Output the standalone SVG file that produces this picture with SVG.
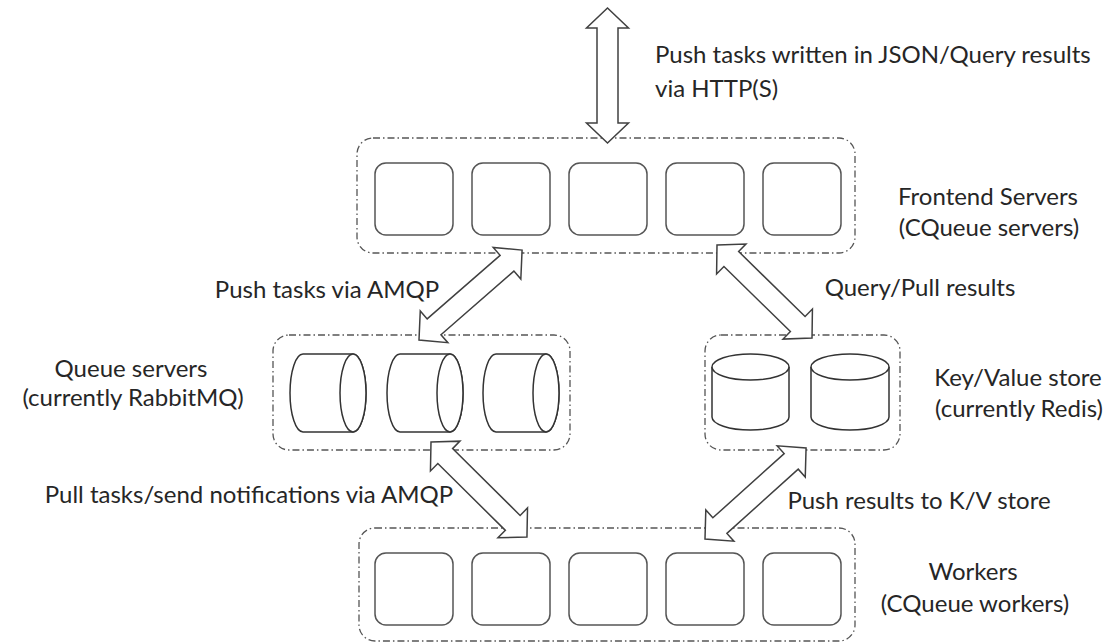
<svg xmlns="http://www.w3.org/2000/svg" width="1116" height="643" viewBox="0 0 1116 643">
<style>
  .grp { fill: none; stroke: #555; stroke-width: 1.3; stroke-dasharray: 7 3 1.5 3; }
  .box { fill: #fff; stroke: #555; stroke-width: 1.5; }
  .cyl { fill: #fff; stroke: #333; stroke-width: 1.5; }
  .arr { fill: #fff; stroke: #404040; stroke-width: 1.5; stroke-linejoin: miter; }
  text { font-family: Lato, "Open Sans", sans-serif; font-size: 24px; fill: #262626; }
  .c { text-anchor: middle; }
</style>
<rect width="1116" height="643" fill="#fff"/>

<g id="frontend">
  <rect class="grp" x="357" y="138" width="498" height="115" rx="16"/>
  <rect class="box" x="375" y="163" width="78" height="72" rx="11"/>
  <rect class="box" x="472" y="163" width="78" height="72" rx="11"/>
  <rect class="box" x="569" y="163" width="78" height="72" rx="11"/>
  <rect class="box" x="666" y="163" width="78" height="72" rx="11"/>
  <rect class="box" x="763" y="163" width="78" height="72" rx="11"/>
  <text class="c" x="988" y="205">Frontend Servers</text>
  <text class="c" x="989" y="236">(CQueue servers)</text>
</g>

<g id="queue">
  <rect class="grp" x="273" y="335" width="297" height="115" rx="16"/>
  <path class="cyl" d="M303,354 L353,354 A13,39 0 0 1 353,432 L303,432 A13,39 0 0 1 303,354 Z"/>
  <ellipse class="cyl" cx="353" cy="393" rx="13" ry="39"/>
  <path class="cyl" d="M400,354 L450,354 A13,39 0 0 1 450,432 L400,432 A13,39 0 0 1 400,354 Z"/>
  <ellipse class="cyl" cx="450" cy="393" rx="13" ry="39"/>
  <path class="cyl" d="M496,354 L546,354 A13,39 0 0 1 546,432 L496,432 A13,39 0 0 1 496,354 Z"/>
  <ellipse class="cyl" cx="546" cy="393" rx="13" ry="39"/>
  <text class="c" x="131" y="377">Queue servers</text>
  <text class="c" x="133" y="406">(currently RabbitMQ)</text>
</g>

<g id="kvstore">
  <rect class="grp" x="705" y="335" width="195" height="115" rx="16"/>
  <path class="cyl" d="M712,367 L712,417 A38.5,13 0 0 0 789,417 L789,367"/>
  <ellipse class="cyl" cx="750.5" cy="367" rx="38.5" ry="13"/>
  <path class="cyl" d="M811,367 L811,417 A39,13 0 0 0 889,417 L889,367"/>
  <ellipse class="cyl" cx="850" cy="367" rx="39" ry="13"/>
  <text class="c" x="1018" y="386">Key/Value store</text>
  <text class="c" x="1019" y="417">(currently Redis)</text>
</g>

<g id="workers">
  <rect class="grp" x="359" y="528" width="496" height="113" rx="16"/>
  <rect class="box" x="375" y="553" width="78" height="72" rx="11"/>
  <rect class="box" x="472" y="553" width="78" height="72" rx="11"/>
  <rect class="box" x="569" y="553" width="78" height="72" rx="11"/>
  <rect class="box" x="666" y="553" width="78" height="72" rx="11"/>
  <rect class="box" x="763" y="553" width="78" height="72" rx="11"/>
  <text class="c" x="973" y="580">Workers</text>
  <text class="c" x="975" y="612">(CQueue workers)</text>
</g>

<g id="connectors">
  <path class="arr" transform="translate(607.5,8) rotate(90)" d="M0,0 L20,-21 L20,-10.5 L115,-10.5 L115,-21 L135,0 L115,21 L115,10.5 L20,10.5 L20,21 Z"/>
  <path class="arr" transform="translate(419,340) rotate(-41.1)" d="M0,0 L20,-21 L20,-10.5 L116.8,-10.5 L116.8,-21 L136.8,0 L116.8,21 L116.8,10.5 L20,10.5 L20,21 Z"/>
  <path class="arr" transform="translate(717,245) rotate(44.4)" d="M0,0 L20,-21 L20,-10.5 L113,-10.5 L113,-21 L133,0 L113,21 L113,10.5 L20,10.5 L20,21 Z"/>
  <path class="arr" transform="translate(431,442) rotate(44.7)" d="M0,0 L20,-21 L20,-10.5 L115,-10.5 L115,-21 L135,0 L115,21 L115,10.5 L20,10.5 L20,21 Z"/>
  <path class="arr" transform="translate(705,539) rotate(-42)" d="M0,0 L20,-21 L20,-10.5 L116,-10.5 L116,-21 L136,0 L116,21 L116,10.5 L20,10.5 L20,21 Z"/>
  <text x="655" y="63">Push tasks written in JSON/Query results</text>
  <text x="655" y="97">via HTTP(S)</text>
  <text class="c" x="327" y="298">Push tasks via AMQP</text>
  <text class="c" x="920" y="296">Query/Pull results</text>
  <text class="c" x="249" y="503">Pull tasks/send notifications via AMQP</text>
  <text class="c" x="919" y="509">Push results to K/V store</text>
</g>
</svg>
